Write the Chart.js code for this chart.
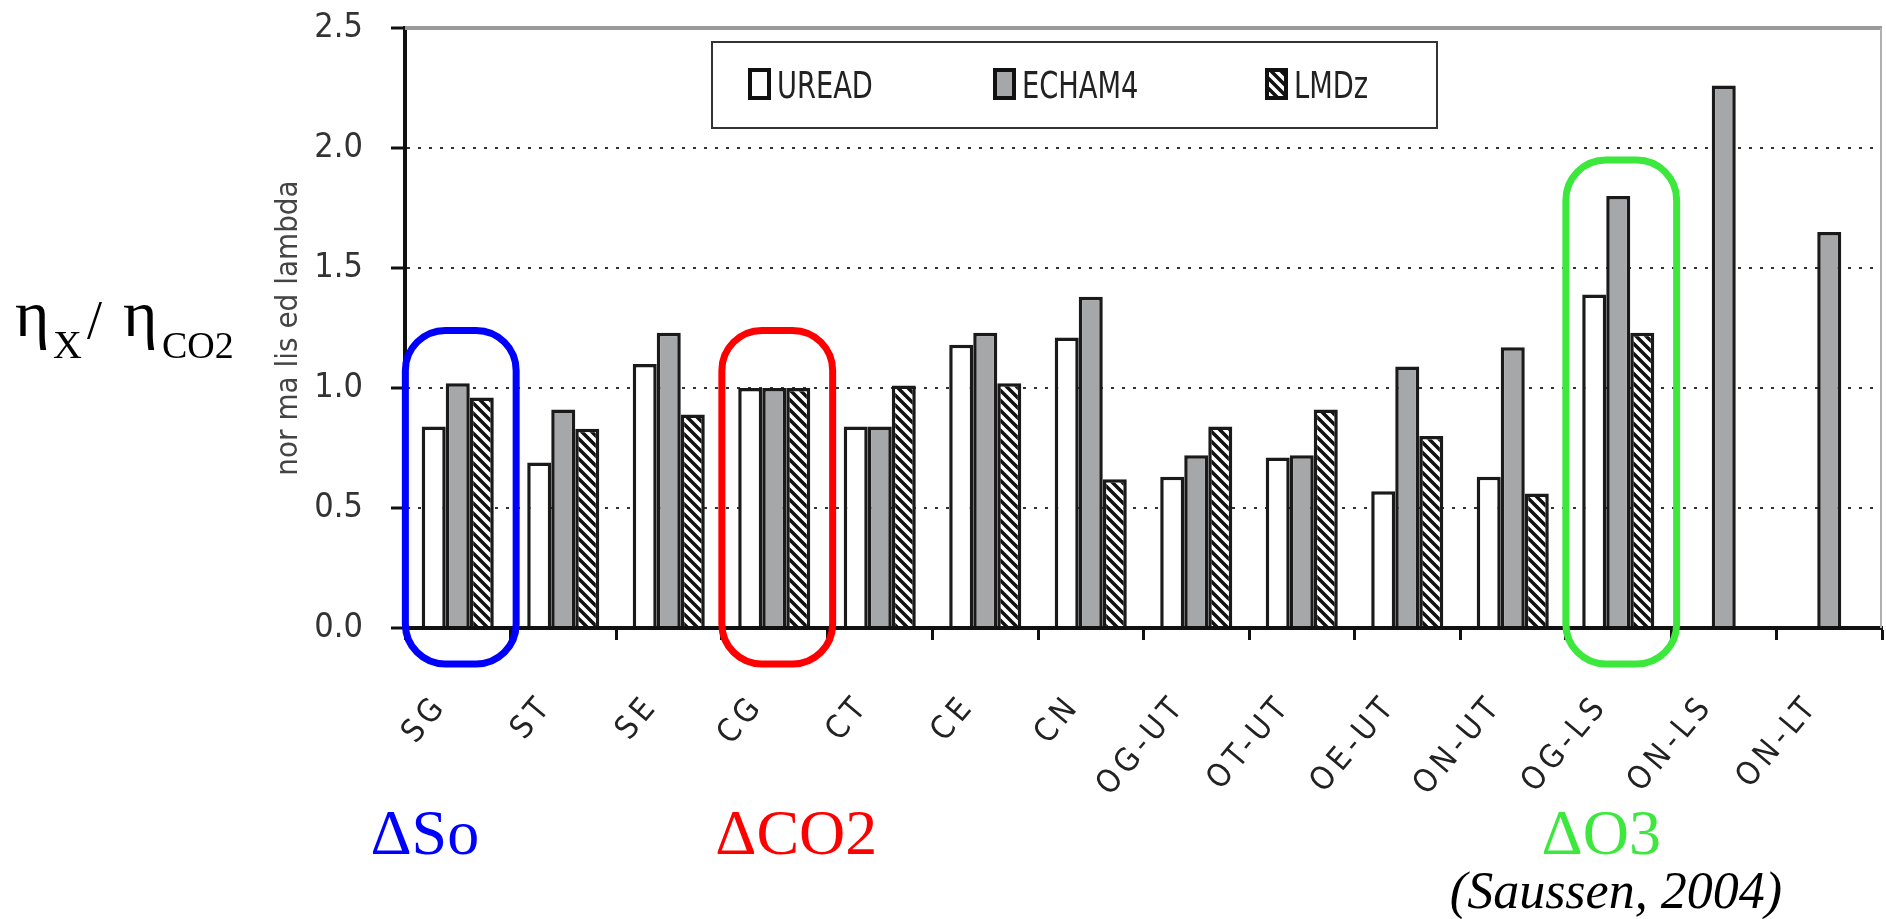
<!DOCTYPE html>
<html lang="en">
<head>
  <meta charset="UTF-8" />
  <title>Normalised lambda by model</title>
  <script src="https://cdn.jsdelivr.net/npm/chart.js@4"></script>
  <style>
    html, body { margin: 0; padding: 0; background: #fff; overflow: hidden; }
    canvas { display: block; }
  </style>
</head>
<body>
  <canvas id="chart" width="1886" height="919"></canvas>
  <script>
    // categories and values
    const categories = ["SG", "ST", "SE", "CG", "CT", "CE", "CN", "OG-UT", "OT-UT", "OE-UT", "ON-UT", "OG-LS", "ON-LS", "ON-LT"];
    const uread  = [0.84, 0.69, 1.10, 1.00, 0.84, 1.18, 1.21, 0.63, 0.71, 0.57, 0.63, 1.39, null, null];
    const echam4 = [1.02, 0.91, 1.23, 1.00, 0.84, 1.23, 1.38, 0.72, 0.72, 1.09, 1.17, 1.80, 2.26, 1.65];
    const lmdz   = [0.96, 0.83, 0.89, 1.00, 1.01, 1.02, 0.62, 0.84, 0.91, 0.80, 0.56, 1.23, null, null];
    const yTicks = [0, 0.5, 1, 1.5, 2, 2.5];

    // highlighted groups
    const noteCats   = ["SG", "CG", "OG-LS"];
    const noteTops   = [1.24, 1.24, 1.95];
    const noteLabels = ["\u0394So", "\u0394CO2", "\u0394O3"];
    const noteColors = ["#0000ff", "#ff0000", "#3de83d"];
    const citation = "(Saussen, 2004)";

    const NARROW = "'Liberation Sans Narrow', 'DejaVu Sans Condensed', 'Roboto Condensed', sans-serif";
    const SERIF = "'Liberation Serif', 'DejaVu Serif', serif";

    function hatch() {
      const c = document.createElement("canvas");
      c.width = c.height = 10;
      const g = c.getContext("2d");
      g.fillStyle = "#fff";
      g.fillRect(0, 0, 10, 10);
      g.strokeStyle = "#111";
      g.lineWidth = 3.5;
      g.beginPath();
      for (const k of [-10, 0, 10]) { g.moveTo(k - 2, -2); g.lineTo(k + 12, 12); }
      g.stroke();
      return g.createPattern(c, "repeat");
    }
    const hatchFill = hatch();

    function roundRect(ctx, x, y, w, h, r) {
      ctx.beginPath();
      ctx.moveTo(x + r, y);
      ctx.arcTo(x + w, y, x + w, y + h, r);
      ctx.arcTo(x + w, y + h, x, y + h, r);
      ctx.arcTo(x, y + h, x, y, r);
      ctx.arcTo(x, y, x + w, y, r);
      ctx.closePath();
    }

    const decor = {
      id: "decor",
      afterDatasetsDraw(chart) {
        // spaced lettering for the category labels drawn next
        chart.ctx.letterSpacing = "5px";
      },
      afterDraw(chart) {
        const { ctx, chartArea: a, scales: { x, y } } = chart;
        ctx.save();
        ctx.letterSpacing = "0px";

        // top and right frame
        ctx.strokeStyle = "#9a9a9a";
        ctx.lineWidth = 4;
        ctx.beginPath();
        ctx.moveTo(a.left, a.top);
        ctx.lineTo(a.right, a.top);
        ctx.stroke();
        ctx.lineWidth = 2;
        ctx.strokeStyle = "#b0b0b0";
        ctx.beginPath();
        ctx.moveTo(a.right - 1, a.top);
        ctx.lineTo(a.right - 1, a.bottom);
        ctx.stroke();

        // legend box
        ctx.fillStyle = "#fff";
        ctx.fillRect(712, 42, 725, 86);
        ctx.strokeStyle = "#333";
        ctx.lineWidth = 2;
        ctx.strokeRect(712, 42, 725, 86);
        const itemX = [750, 995, 1267];
        chart.data.datasets.forEach((ds, i) => {
          ctx.fillStyle = ds.backgroundColor;
          ctx.fillRect(itemX[i], 70, 19, 28);
          ctx.strokeStyle = "#111";
          ctx.lineWidth = 4;
          ctx.strokeRect(itemX[i], 70, 19, 28);
          ctx.save();
          ctx.translate(itemX[i] + 27, 98);
          ctx.scale(0.82, 1);
          ctx.fillStyle = "#222";
          ctx.font = "37px " + NARROW;
          ctx.textAlign = "left";
          ctx.textBaseline = "alphabetic";
          ctx.fillText(ds.label, 0, 0);
          ctx.restore();
        });

        // rounded frames around the highlighted groups and their labels
        const catW = x.getPixelForValue(1) - x.getPixelForValue(0);
        const textShift = [-36, 19, -20];
        noteCats.forEach((cat, i) => {
          const cx = x.getPixelForValue(categories.indexOf(cat)) + 3;
          const hw = catW * 0.525;
          const top = y.getPixelForValue(noteTops[i]);
          const bottom = y.getPixelForValue(-0.15);
          ctx.strokeStyle = noteColors[i];
          ctx.lineWidth = 7;
          roundRect(ctx, cx - hw, top, hw * 2, bottom - top, 40);
          ctx.stroke();
          ctx.fillStyle = noteColors[i];
          ctx.font = "64px " + SERIF;
          ctx.textAlign = "center";
          ctx.fillText(noteLabels[i], cx + textShift[i], 854);
        });

        ctx.fillStyle = "#000";
        ctx.font = "italic 52px " + SERIF;
        ctx.textAlign = "right";
        ctx.fillText(citation, 1782, 908);

        // eta_X / eta_CO2
        ctx.textAlign = "left";
        ctx.font = "66px " + SERIF;
        ctx.fillText("\u03b7", 15, 336);
        ctx.fillText("\u03b7", 123, 336);
        ctx.font = "40px " + SERIF;
        ctx.fillText("X", 53, 358);
        ctx.font = "54px " + SERIF;
        ctx.fillText("/", 87, 338);
        ctx.font = "38px " + SERIF;
        ctx.fillText("CO2", 162, 358);
        ctx.restore();
      }
    };

    new Chart(document.getElementById("chart"), {
      type: "bar",
      data: {
        labels: categories,
        datasets: [
          { label: "UREAD", data: uread, backgroundColor: "#ffffff" },
          { label: "ECHAM4", data: echam4, backgroundColor: "#a6a7a9" },
          { label: "LMDz", data: lmdz, backgroundColor: hatchFill },
        ],
      },
      options: {
        responsive: false,
        animation: false,
        devicePixelRatio: 1,
        layout: { padding: { left: 270, right: 4, top: 28, bottom: 0 } },
        datasets: {
          bar: {
            borderColor: "#1a1a1a",
            borderWidth: 3.5,
            categoryPercentage: 0.683,
            barPercentage: 1,
          },
        },
        plugins: {
          legend: { display: false },
          tooltip: { enabled: false },
        },
        scales: {
          x: {
            afterFit: (s) => { s.height = 291; s.paddingLeft = 0; s.paddingRight = 0; },
            grid: {
              offset: true,
              drawOnChartArea: false,
              tickLength: 12,
              tickWidth: 3,
              tickColor: "#111",
              color: "#111",
            },
            border: { color: "#111", width: 4, z: 1 },
            ticks: {
              autoSkip: false,
              minRotation: 50,
              maxRotation: 50,
              padding: 48,
              labelOffset: -16,
              color: "#222",
              font: { family: NARROW, size: 32 },
              z: 1,
            },
          },
          y: {
            min: 0,
            max: 2.5,
            afterFit: (s) => { s.width = 135; s.paddingTop = 0; s.paddingBottom = 0; },
            afterBuildTicks: (s) => { s.ticks = yTicks.map((v) => ({ value: v })); },
            grid: {
              color: (c) => (c.tick && (c.tick.value === 0 || c.tick.value === 2.5)) ? "rgba(0,0,0,0)" : "#333",
              lineWidth: 2,
              tickLength: 14,
              tickWidth: 3,
              tickColor: "#111",
            },
            border: { color: "#111", width: 4, dash: [3, 8] },
            ticks: {
              padding: 28,
              color: "#333",
              font: { family: NARROW, size: 34 },
              callback: (v) => Number(v).toFixed(1),
            },
            title: {
              display: true,
              text: "nor ma lis ed lambda",
              color: "#444",
              font: { family: NARROW, size: 31 },
              padding: 0,
            },
          },
        },
      },
      plugins: [decor],
    });
  </script>
</body>
</html>
